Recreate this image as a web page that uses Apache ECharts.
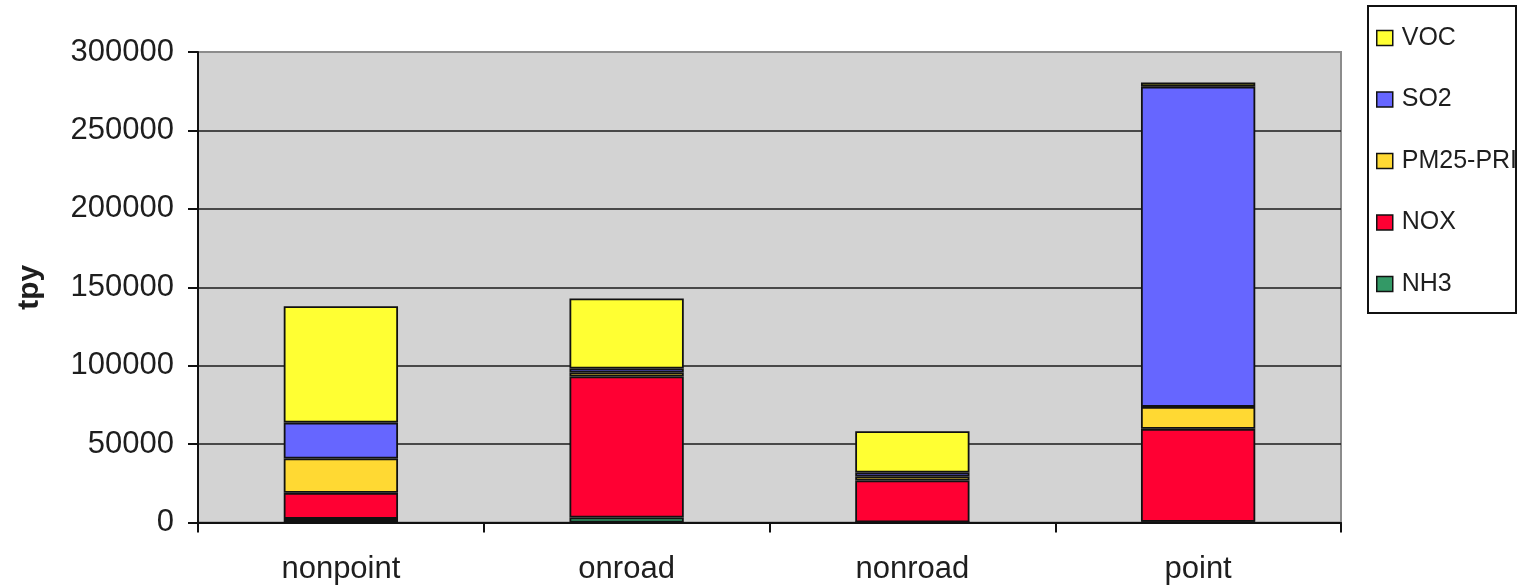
<!DOCTYPE html>
<html>
<head>
<meta charset="utf-8">
<script src="https://cdn.jsdelivr.net/npm/echarts@6/dist/echarts.min.js"></script>
<style>
  html, body { margin: 0; padding: 0; background: #ffffff; }
  #chart { width: 1517px; height: 586px; }
</style>
</head>
<body>
<div id="chart"></div>
<script>
// Emissions by source sector, tons per year
const categories = ['nonpoint', 'onroad', 'nonroad', 'point'];
const nh3  = [2300, 3200, 200, 500];
const nox  = [16600, 89900, 26600, 59200];
const pm25 = [21900, 2500, 2500, 14000];
const so2  = [22900, 2600, 2600, 204200];
const voc  = [74200, 44600, 26300, 2600];
const yTicks = [0, 50000, 100000, 150000, 200000, 250000, 300000];

const FONT = '"Liberation Sans", Arial, sans-serif';
const TEXT = '#1e1e1e';

function stackSeries(name, values, color) {
  return {
    name: name,
    type: 'bar',
    stack: 'total',
    data: values,
    barCategoryGap: '60%',
    itemStyle: { color: color, borderColor: '#111111', borderWidth: 1.8 },
    emphasis: { disabled: true }
  };
}

const chart = echarts.init(document.getElementById('chart'), null, { renderer: 'canvas' });
chart.setOption({
  animation: false,
  backgroundColor: '#ffffff',
  textStyle: { fontFamily: FONT },
  grid: {
    left: 198, top: 52, width: 1143, height: 470.5,
    containLabel: false,
    outerBoundsMode: 'none',
    show: true, backgroundColor: '#d3d3d3',
    borderColor: '#8c8c8c', borderWidth: 2
  },
  legend: {
    orient: 'vertical',
    left: 1371, top: 20,
    data: ['VOC', 'SO2', 'PM25-PRI', 'NOX', 'NH3'],
    icon: 'rect',
    itemWidth: 16, itemHeight: 15,
    itemGap: 35.5,
    itemStyle: { borderColor: '#111111', borderWidth: 1.5 },
    textStyle: { fontFamily: FONT, fontSize: 25, color: TEXT, lineHeight: 26, padding: [0, 0, 0, 4] },
    selectedMode: false
  },
  xAxis: {
    type: 'category',
    data: categories,
    axisLine: { lineStyle: { color: '#111111', width: 2 } },
    axisTick: { show: true, alignWithLabel: false, length: 10, lineStyle: { color: '#111111', width: 2 } },
    axisLabel: { fontFamily: FONT, fontSize: 31, color: TEXT, margin: 31 }
  },
  yAxis: {
    type: 'value',
    min: yTicks[0], max: yTicks[yTicks.length - 1], interval: yTicks[1] - yTicks[0],
    name: 'tpy',
    nameLocation: 'middle',
    nameGap: 153,
    nameTextStyle: { fontFamily: FONT, fontSize: 30, fontWeight: 'bold', color: TEXT },
    axisLine: { show: true, lineStyle: { color: '#111111', width: 2 } },
    axisTick: { show: true, length: 10, lineStyle: { color: '#111111', width: 2 } },
    axisLabel: { fontFamily: FONT, fontSize: 31, color: TEXT, margin: 24, formatter: v => String(v) },
    splitLine: { show: true, showMinLine: false, showMaxLine: false, lineStyle: { color: '#1a1a1a', width: 1.5 } }
  },
  graphic: [{
    type: 'rect',
    z: 100,
    shape: { x: 1368, y: 6, width: 148, height: 307 },
    style: { fill: 'none', stroke: '#111111', lineWidth: 2 }
  }],
  series: [
    stackSeries('NH3', nh3, '#339966'),
    stackSeries('NOX', nox, '#ff0033'),
    stackSeries('PM25-PRI', pm25, '#ffd933'),
    stackSeries('SO2', so2, '#6666ff'),
    stackSeries('VOC', voc, '#ffff33')
  ]
});
</script>
</body>
</html>
